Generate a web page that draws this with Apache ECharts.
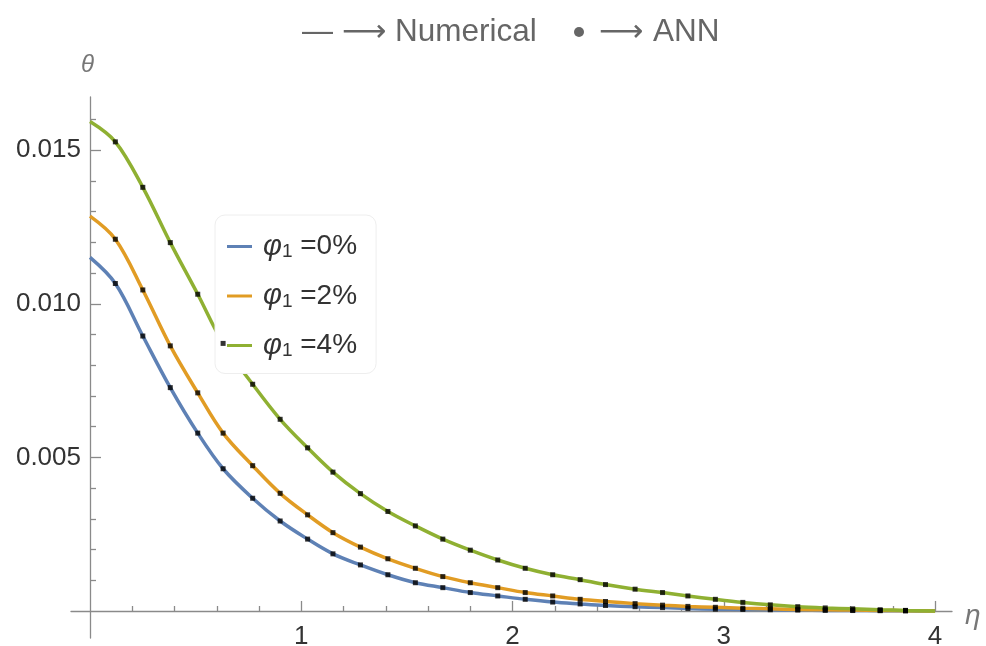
<!DOCTYPE html>
<html>
<head>
<meta charset="utf-8">
<script src="https://cdn.jsdelivr.net/npm/echarts@6/dist/echarts.min.js"></script>
<style>
html,body{margin:0;padding:0;background:#fff;}
#chart{width:986px;height:646px;}
</style>
</head>
<body>
<div id="chart"></div>
<script>
// eta positions (numerical curve points; interior ones also carry the ANN markers)
const eta = [0, 0.12, 0.25, 0.38, 0.51, 0.63, 0.77, 0.90, 1.03, 1.15, 1.28, 1.41, 1.54, 1.67, 1.80, 1.93,
  2.06, 2.19, 2.32, 2.44, 2.58, 2.71, 2.83, 2.96, 3.09, 3.22, 3.35, 3.48, 3.61, 3.74, 3.86, 4];
const thetaPhi0 = [0.01151, 0.01066, 0.00895, 0.00727, 0.00579, 0.00463, 0.00367, 0.00293, 0.00234, 0.00186,
  0.00150, 0.00118, 0.00092, 0.00076, 0.00060, 0.00049, 0.00038, 0.00029, 0.00023, 0.00018, 0.00014,
  0.00011, 0.00008, 0.00006, 0.00005, 0.00004, 0.00003, 0.00002, 0.000015, 0.00001, 0.000005, 0];
const thetaPhi2 = [0.01285, 0.01210, 0.01045, 0.00863, 0.00710, 0.00579, 0.00473, 0.00383, 0.00313, 0.00255,
  0.00208, 0.00170, 0.00139, 0.00112, 0.00092, 0.00076, 0.00060, 0.00049, 0.00038, 0.00031, 0.00024,
  0.00019, 0.00015, 0.00012, 0.00009, 0.00007, 0.00005, 0.00004, 0.00003, 0.00002, 0.00001, 0];
const thetaPhi4 = [0.01593, 0.01527, 0.01379, 0.01199, 0.01031, 0.00871, 0.00738, 0.00624, 0.00531, 0.00452,
  0.00382, 0.00324, 0.00277, 0.00234, 0.00198, 0.00166, 0.00139, 0.00118, 0.00102, 0.00086, 0.00071,
  0.00060, 0.00049, 0.00038, 0.00028, 0.00020, 0.00014, 0.00010, 0.00007, 0.00004, 0.00002, 0];

const seriesNames = ['φ1=0%', 'φ1=2%', 'φ1=4%'];
const legendLabels = ['0%', '2%', '4%'];
const seriesColors = ['#5E81B5', '#E19C24', '#8FB032'];

const xMajorTicks = [1, 2, 3, 4];
const xMinorTicks = [0.2, 0.4, 0.6, 0.8, 1.2, 1.4, 1.6, 1.8, 2.2, 2.4, 2.6, 2.8, 3.2, 3.4, 3.6, 3.8];
const yMajorTicks = [0.005, 0.010, 0.015];
const yMinorTicks = [0.001, 0.002, 0.003, 0.004, 0.006, 0.007, 0.008, 0.009, 0.011, 0.012, 0.013, 0.014, 0.016];

// plot range: grid 0 holds data/ticks/labels from zero, grid 1 draws the axis lines that overshoot zero
const xMin = -0.09, xMax = 4.08, yMin = -0.00088, yMax = 0.01673;
const axisGray = '#8a8a8a';
const labelFont = '"Liberation Sans", Arial, sans-serif';

function pairs(ys) { return eta.map((x, i) => [x, ys[i]]); }
function annPairs(ys) { return eta.slice(1, -1).map((x, i) => [x, ys[i + 1]]); }

const allTheta = [thetaPhi0, thetaPhi2, thetaPhi4];
const series = [];
allTheta.forEach((ys, k) => {
  series.push({
    name: seriesNames[k], type: 'line', data: pairs(ys), xAxisIndex: 0, yAxisIndex: 0,
    smooth: 0.35, showSymbol: false, symbol: 'none', clip: false,
    lineStyle: { width: 3.5, color: seriesColors[k] }, itemStyle: { color: seriesColors[k] },
    z: 2, silent: true
  });
});
allTheta.forEach((ys, k) => {
  series.push({
    name: 'ANN ' + legendLabels[k], type: 'scatter', data: annPairs(ys), xAxisIndex: 0, yAxisIndex: 0,
    symbol: 'rect', symbolSize: 5, itemStyle: { color: '#000' }, z: 5, silent: true, clip: false
  });
});

const tickLine = { color: axisGray, width: 1.3 };

const chart = echarts.init(document.getElementById('chart'), null, { renderer: 'canvas' });
chart.setOption({
  backgroundColor: '#fff',
  animation: false,
  grid: [
    { left: 90, right: 34, top: 97, bottom: 35, containLabel: false, outerBoundsMode: 'none' },
    { left: 71, right: 34, top: 97, bottom: 8, containLabel: false, outerBoundsMode: 'none' }
  ],
  xAxis: [
    { gridIndex: 0, type: 'value', min: 0, max: xMax, position: 'bottom',
      axisLine: { show: false, onZero: false },
      axisTick: { show: true, inside: true, length: 5, customValues: xMinorTicks, lineStyle: tickLine },
      axisLabel: { show: true, customValues: xMajorTicks, margin: 13, fontSize: 26, color: '#333', fontFamily: labelFont,
        formatter: v => String(Math.round(v)) },
      splitLine: { show: false } },
    { gridIndex: 1, type: 'value', min: xMin, max: xMax, position: 'bottom',
      axisLine: { show: true, onZero: true, onZeroAxisIndex: 1, lineStyle: tickLine },
      axisTick: { show: true, inside: true, length: 10, customValues: xMajorTicks, lineStyle: tickLine },
      axisLabel: { show: false }, splitLine: { show: false } }
  ],
  yAxis: [
    { gridIndex: 0, type: 'value', min: 0, max: yMax, position: 'left',
      axisLine: { show: false, onZero: false },
      axisTick: { show: true, inside: true, length: 6, customValues: yMinorTicks, lineStyle: tickLine },
      axisLabel: { show: true, customValues: yMajorTicks, margin: 9, fontSize: 26, color: '#333', fontFamily: labelFont,
        formatter: v => v.toFixed(3) },
      splitLine: { show: false } },
    { gridIndex: 1, type: 'value', min: yMin, max: yMax, position: 'left',
      axisLine: { show: true, onZero: true, onZeroAxisIndex: 1, lineStyle: tickLine },
      axisTick: { show: true, inside: true, length: 11, customValues: yMajorTicks, lineStyle: tickLine },
      axisLabel: { show: false }, splitLine: { show: false } }
  ],
  legend: {
    data: seriesNames, orient: 'vertical', left: 215, top: 215,
    padding: [17, 19, 13, 12], itemGap: 20, itemWidth: 25, itemHeight: 3, icon: 'rect',
    backgroundColor: '#fff', borderColor: '#eeeeee', borderWidth: 1, borderRadius: 10,
    selectedMode: false,
    formatter: name => '{i|φ}{s|1}{n| =' + legendLabels[seriesNames.indexOf(name)] + '}',
    textStyle: {
      padding: [0, 0, 0, 6], color: '#333', fontFamily: labelFont,
      rich: {
        i: { fontSize: 29, fontStyle: 'italic', lineHeight: 30, color: '#333', fontFamily: labelFont },
        s: { fontSize: 19, lineHeight: 18, verticalAlign: 'bottom', color: '#333', fontFamily: labelFont },
        n: { fontSize: 28, lineHeight: 30, color: '#333', fontFamily: labelFont }
      }
    }
  },
  graphic: [
    { type: 'text', left: 302, top: 17, style: { text: '—', fontSize: 31, fill: '#666', fontFamily: labelFont } },
    { type: 'text', left: 342, top: 17, style: { text: '⟶', fontSize: 31, fill: '#666', fontFamily: '"DejaVu Sans", sans-serif' } },
    { type: 'text', left: 395, top: 16, style: { text: 'Numerical', fontSize: 31.5, fill: '#666', fontFamily: labelFont } },
    { type: 'circle', shape: { cx: 579, cy: 32, r: 5 }, style: { fill: '#666' } },
    { type: 'text', left: 599, top: 17, style: { text: '⟶', fontSize: 31, fill: '#666', fontFamily: '"DejaVu Sans", sans-serif' } },
    { type: 'text', left: 653, top: 16, style: { text: 'ANN', fontSize: 31.5, fill: '#666', fontFamily: labelFont } },
    { type: 'text', left: 81, top: 53, style: { text: 'θ', fontSize: 24, fontStyle: 'italic', fill: '#777', fontFamily: labelFont } },
    { type: 'text', left: 965, top: 602, style: { text: 'η', fontSize: 28, fontStyle: 'italic', fill: '#777', fontFamily: labelFont } }
  ],
  series: series
});
</script>
</body>
</html>
